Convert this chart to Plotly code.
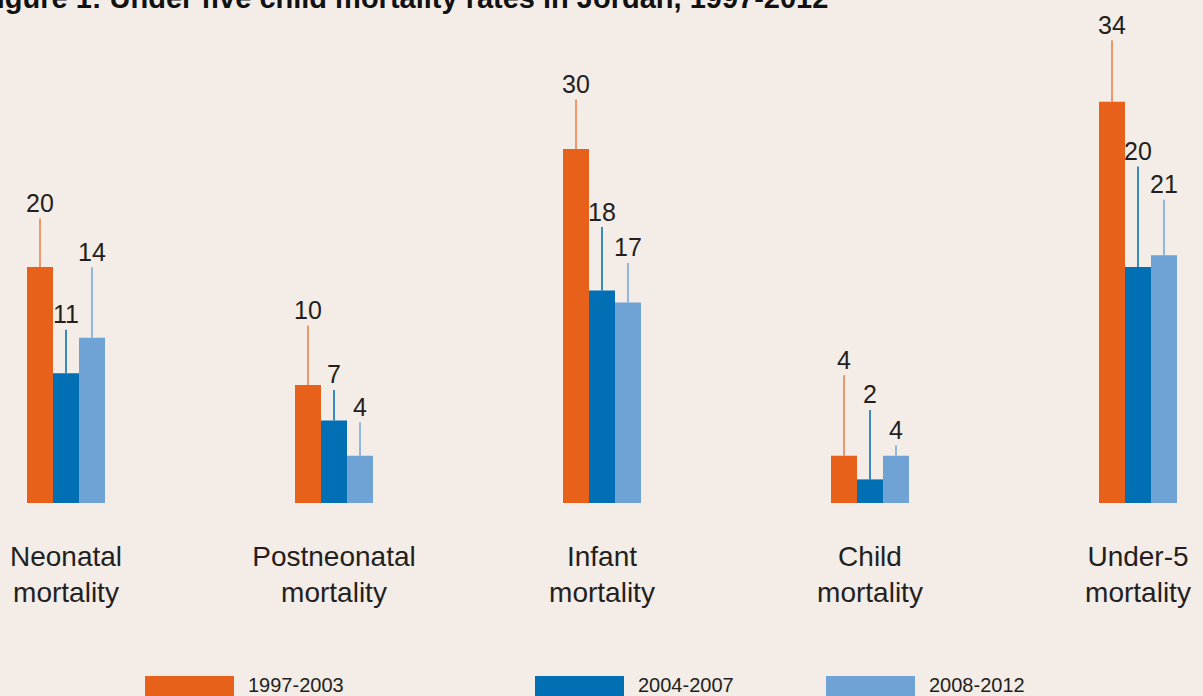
import plotly.graph_objects as go

# ---- data ----
categories = ["Neonatal mortality", "Postneonatal mortality", "Infant mortality",
              "Child mortality", "Under-5 mortality"]
tick_labels = ["Neonatal<br>mortality", "Postneonatal<br>mortality", "Infant<br>mortality",
               "Child<br>mortality", "Under-5<br>mortality"]
series_names = ["1997-2003", "2004-2007", "2008-2012"]
rates_1997_2003 = [20, 10, 30, 4, 34]
rates_2004_2007 = [11, 7, 18, 2, 20]
rates_2008_2012 = [14, 4, 17, 4, 21]
title_text = "Figure 1: Under five child mortality rates in Jordan, 1997-2012"

# ---- style ----
W, H = 1203, 696
BG = "#f3ece7"
bar_colors = ["#e8611a", "#006fb4", "#6fa3d6"]
line_colors = ["rgba(236,120,60,0.9)", "#0a72b8", "#7aaadb"]
leader_px = [[47, 58, 48, 79, 60],   # leader line length (px) per series
             [42, 29, 62, 68, 99],
             [69, 32, 38, 9, 54]]
bar_px = 26
margin_l, margin_r, margin_t, margin_b = 0, 0, 0, 193
px_per_unit = 11.8
first_center_px = 66
group_step_px = 268
legend_x_px = [145, 535, 826]
FONT = "Liberation Sans, Arial, sans-serif"
TXT = "#231f20"

series = [rates_1997_2003, rates_2004_2007, rates_2008_2012]

fig = go.Figure()
for name, vals, col in zip(series_names, series, bar_colors):
    fig.add_trace(go.Bar(x=categories, y=vals, name=name, marker_color=col,
                         marker_line_width=0, showlegend=False, hoverinfo="skip"))

plot_h = H - margin_t - margin_b
plot_w = W - margin_l - margin_r
x0 = -(first_center_px - margin_l) / group_step_px
x1 = x0 + plot_w / group_step_px

annotations = []
for s, (vals, lc, lens) in enumerate(zip(series, line_colors, leader_px)):
    shift = (s - 1) * bar_px
    for i, v in enumerate(vals):
        annotations.append(dict(
            x=i, y=v, xref="x", yref="y", text=str(v), showarrow=True,
            arrowhead=0, arrowwidth=1.6, arrowcolor=lc, ax=0, ay=-(lens[i] + 17),
            xshift=shift, font=dict(family=FONT, size=25, color=TXT),
            borderpad=1, standoff=0,
        ))

def py(p):
    return (H - margin_b - p) / plot_h

shapes = []
for name, col, lx in zip(series_names, bar_colors, legend_x_px):
    shapes.append(dict(type="rect", xref="paper", yref="paper",
                       x0=lx / W, x1=(lx + 89) / W, y0=py(676), y1=py(700),
                       fillcolor=col, line_width=0))
    annotations.append(dict(x=(lx + 101) / W, y=py(685), xref="paper", yref="paper",
                            xanchor="left", yanchor="middle", showarrow=False,
                            text=name, font=dict(family=FONT, size=20, color=TXT)))

annotations.append(dict(x=830 / W, y=py(-2), xref="paper", yref="paper",
                        xanchor="right", yanchor="middle", showarrow=False,
                        text="<b>" + title_text + "</b>",
                        font=dict(family=FONT, size=29, color="#111111")))

fig.update_layout(
    width=W, height=H,
    paper_bgcolor=BG, plot_bgcolor=BG,
    margin=dict(l=margin_l, r=margin_r, t=margin_t, b=margin_b, pad=0),
    barmode="group", bargap=1 - 3 * bar_px / group_step_px, bargroupgap=0,
    xaxis=dict(type="category", range=[x0, x1], tickvals=categories, ticktext=tick_labels,
               showgrid=False, zeroline=False, showline=False, ticks="",
               ticklabelstandoff=34,
               tickfont=dict(family=FONT, size=28, color=TXT)),
    yaxis=dict(range=[0, plot_h / px_per_unit], visible=False),
    shapes=shapes, annotations=annotations,
)

fig.write_html("out.html", config={"displayModeBar": False},
               post_script="document.body.style.margin='0';")
